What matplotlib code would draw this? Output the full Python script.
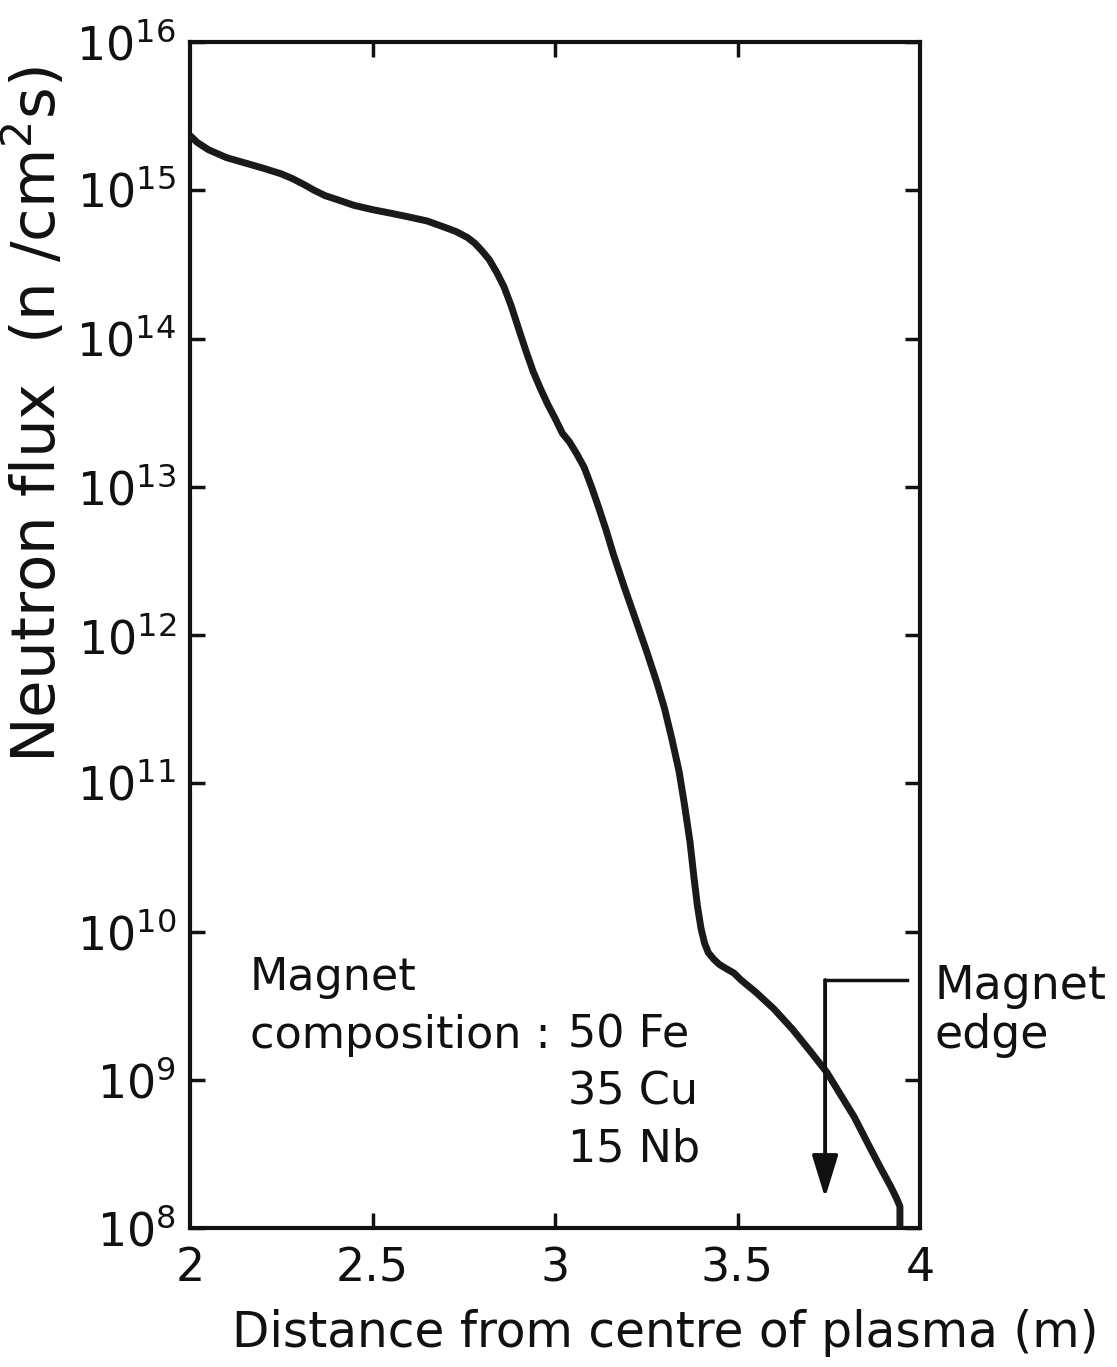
import matplotlib
matplotlib.use("Agg")
import matplotlib.pyplot as plt
from matplotlib.ticker import LogLocator, LogFormatterMathtext, FixedLocator, NullLocator

plt.rcParams["font.family"] = ["DejaVu Sans"]
plt.rcParams["mathtext.fontset"] = "dejavusans"

# Neutron flux profile through blanket, shield and magnet
distance_m = [2.000, 2.020, 2.050, 2.100, 2.150, 2.200, 2.250, 2.280, 2.310, 2.340,
              2.370, 2.400, 2.450, 2.500, 2.550, 2.600, 2.650, 2.700, 2.730, 2.760,
              2.780, 2.800, 2.820, 2.840, 2.860, 2.880, 2.900, 2.920, 2.940, 2.960,
              2.980, 3.000, 3.020, 3.040, 3.060, 3.080, 3.100, 3.120, 3.140, 3.160,
              3.190, 3.220, 3.250, 3.280, 3.300, 3.320, 3.340, 3.355, 3.370, 3.380,
              3.390, 3.400, 3.410, 3.420, 3.435, 3.450, 3.470, 3.490, 3.510, 3.550,
              3.600, 3.650, 3.700, 3.745, 3.780, 3.820, 3.860, 3.890, 3.920, 3.935,
              3.945, 3.945]
flux = [2.34e15, 2.10e15, 1.88e15, 1.66e15, 1.53e15, 1.41e15, 1.29e15, 1.20e15, 1.10e15, 1.00e15,
        9.2e14, 8.7e14, 7.9e14, 7.4e14, 7.0e14, 6.6e14, 6.2e14, 5.6e14, 5.25e14, 4.8e14,
        4.4e14, 3.9e14, 3.4e14, 2.8e14, 2.24e14, 1.66e14, 1.17e14, 8.3e13, 6.0e13, 4.6e13,
        3.6e13, 2.9e13, 2.3e13, 2.0e13, 1.66e13, 1.35e13, 1.0e13, 7.2e12, 5.1e12, 3.5e12,
        2.1e12, 1.29e12, 7.9e11, 4.7e11, 3.2e11, 2.0e11, 1.2e11, 7.1e10, 4.0e10, 2.4e10,
        1.5e10, 1.05e10, 8.3e9, 7.2e9, 6.5e9, 6.0e9, 5.6e9, 5.25e9, 4.7e9, 3.9e9,
        3.0e9, 2.2e9, 1.55e9, 1.12e9, 8.1e8, 5.6e8, 3.6e8, 2.6e8, 1.9e8, 1.6e8,
        1.4e8, 1.0e8]

x_ticks = [2, 2.5, 3, 3.5, 4]
x_tick_labels = ["2", "2.5", "3", "3.5", "4"]
magnet_edge_m = 3.74
composition = ["50 Fe", "35 Cu", "15 Nb"]

INK = "#111111"
W, H = 1117, 1367
fig = plt.figure(figsize=(W / 100, H / 100), dpi=100)
ax = fig.add_axes([190 / W, 139 / H, 730 / W, 1186 / H])

ax.plot(distance_m, flux, color="#1a1a1a", lw=5.0, solid_joinstyle="round",
        solid_capstyle="butt", clip_on=False, zorder=3)

ax.set_yscale("log")
ax.set_xlim(2, 4)
ax.set_ylim(1e8, 1e16)

for s in ax.spines.values():
    s.set_linewidth(3.0)
    s.set_color(INK)

ax.xaxis.set_major_locator(FixedLocator(x_ticks))
ax.set_xticklabels(x_tick_labels)
ax.yaxis.set_major_locator(LogLocator(base=10, numticks=20))
ax.yaxis.set_minor_locator(NullLocator())
ax.yaxis.set_major_formatter(LogFormatterMathtext())

ax.tick_params(axis="both", which="major", direction="in", length=11, width=2.5,
               colors=INK, labelsize=33, top=True, right=True)
ax.tick_params(axis="x", pad=13)
ax.tick_params(axis="y", pad=10)

# no tick marks in the corners
for t in ax.xaxis.get_major_ticks():
    if t.get_loc() in (2, 4):
        t.tick1line.set_visible(False)
        t.tick2line.set_visible(False)

# Magnet edge marker
y_top = 4.7e9
ax.plot([magnet_edge_m, 3.964], [y_top, y_top], color=INK, lw=2.5, clip_on=False)
ax.annotate("", xy=(magnet_edge_m, 1.6e8), xytext=(magnet_edge_m, y_top),
            arrowprops=dict(arrowstyle="-|>,head_length=2.6,head_width=0.8",
                            color=INK, lw=2.8, shrinkA=0, shrinkB=0))
ax.text(4.04, 6.0e9, "Magnet\nedge", fontsize=33, ha="left", va="top",
        linespacing=1.1, color=INK, clip_on=False)

# Composition note
ax.text(2.164, 4.86e9, "Magnet", fontsize=32, ha="left", va="center", color=INK)
ax.text(2.164, 2.0e9, "composition :", fontsize=32, ha="left", va="center", color=INK)
for s, yy in zip(composition, [2.0e9, 8.3e8, 3.4e8]):
    ax.text(3.036, yy, s, fontsize=32, ha="left", va="center", color=INK)

fig.text(36 / W, 1 - 415 / H, r"Neutron flux  (n /cm$^2$s)", rotation=90,
         fontsize=44, ha="center", va="center", color=INK)
fig.text(665 / W, 1 - 1333 / H, "Distance from centre of plasma (m)",
         fontsize=35, ha="center", va="center", color=INK)

fig.savefig("out.png", dpi=100, facecolor="white")
